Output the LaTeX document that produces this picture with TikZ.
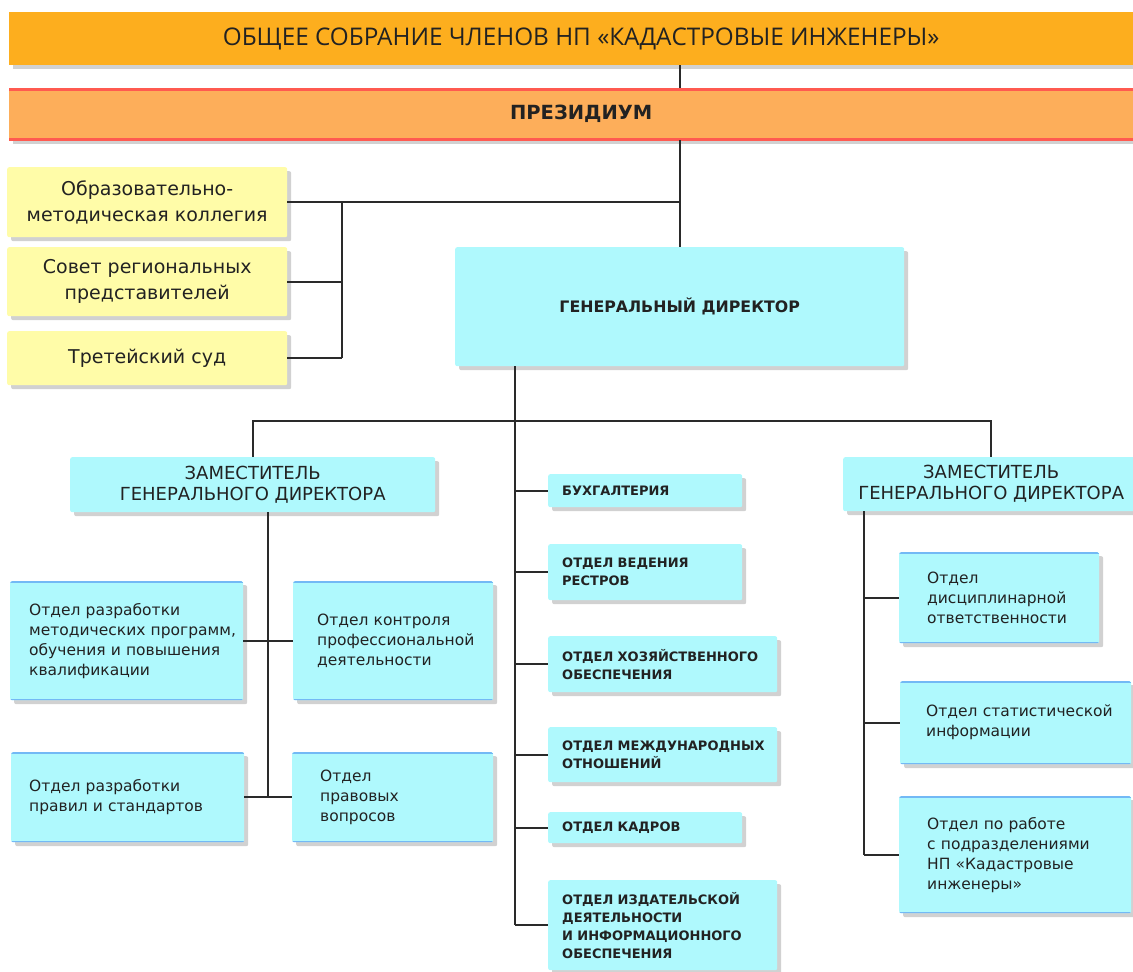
\documentclass[tikz,border=0pt]{standalone}
\usepackage{fontspec}
\setmainfont{DejaVu Sans}
\newfontfamily\titlefont{Open Sans}
\usetikzlibrary{shadows}

\definecolor{topfill}{HTML}{FDAE1E}
\definecolor{presfill}{HTML}{FDAE5A}
\definecolor{presline}{HTML}{FF5A50}
\definecolor{yellowfill}{HTML}{FFFCA8}
\definecolor{cyanfill}{HTML}{AFF9FD}
\definecolor{otdline}{HTML}{73B9F5}
\definecolor{txt}{HTML}{222222}
\definecolor{linecol}{HTML}{2A2A2A}

\begin{document}
\begin{tikzpicture}
    [x=1pt, y=-1pt,
    box/.style={rounded corners=2pt, inner sep=0pt, text=txt, anchor=north west,
        drop shadow={shadow xshift=4pt, shadow yshift=-4pt, opacity=0.18, fill=black}},
    bar/.style={box, rounded corners=0pt, minimum width=1144pt},
    yellowbox/.style={box, fill=yellowfill, minimum width=280pt, align=center,
        font=\fontsize{19}{26}\selectfont},
    cyanbox/.style={box, fill=cyanfill},
    zam/.style={cyanbox, align=center, font=\fontsize{18}{21}\selectfont},
    upbox/.style={cyanbox, align=left, inner xsep=14pt, font=\bfseries\fontsize{13}{18}\selectfont},
    otdel/.style={cyanbox, align=left, font=\fontsize{15.5}{20}\selectfont,
        path picture={
            \draw[otdline, line width=3pt] (path picture bounding box.north west) -- (path picture bounding box.north east);
            \draw[otdline, line width=3pt] (path picture bounding box.south west) -- (path picture bounding box.south east);}},
    link/.style={draw=linecol, line width=1.6pt}]

    \useasboundingbox (0,0) rectangle (1133,972);

    % governing bodies
    \node[bar, fill=topfill, minimum height=53pt, font=\titlefont\fontsize{24.3}{30}\selectfont] (sobranie) at (9,12)
        {ОБЩЕЕ СОБРАНИЕ ЧЛЕНОВ НП «КАДАСТРОВЫЕ ИНЖЕНЕРЫ»};
    \node[bar, fill=presfill, minimum height=52pt, font=\bfseries\fontsize{19.5}{24}\selectfont,
        path picture={
            \draw[presline, line width=5pt] (path picture bounding box.north west) -- (path picture bounding box.north east);
            \draw[presline, line width=5pt] (path picture bounding box.south west) -- (path picture bounding box.south east);}]
        (prezidium) at (9,88) {ПРЕЗИДИУМ};

    % yellow boards
    \node[yellowbox, minimum height=70pt] (omk) at (7,167) {Образовательно-\\методическая коллегия};
    \node[yellowbox, minimum height=69pt] (sovet) at (7,247) {Совет региональных\\представителей};
    \node[yellowbox, minimum height=54pt] (sud) at (7,331) {Третейский суд};

    % director and deputies
    \node[cyanbox, minimum width=449pt, minimum height=119pt, font=\bfseries\fontsize{15.8}{18}\selectfont] (gendir) at (455,247)
        {ГЕНЕРАЛЬНЫЙ ДИРЕКТОР};
    \node[zam, minimum width=365pt, minimum height=55pt] (zamL) at (70,457) {ЗАМЕСТИТЕЛЬ\\ГЕНЕРАЛЬНОГО ДИРЕКТОРА};
    \node[zam, minimum width=296pt, minimum height=54pt] (zamR) at (843,457) {ЗАМЕСТИТЕЛЬ\\ГЕНЕРАЛЬНОГО ДИРЕКТОРА};

    % left departments
    \node[otdel, text width=195pt, inner xsep=19pt, minimum height=119pt] (otdA) at (10,581)
        {Отдел~разработки\\методических~программ,\\обучения~и~повышения\\квалификации};
    \node[otdel, text width=152pt, inner xsep=24pt, minimum height=119pt] (otdB) at (293,581)
        {Отдел~контроля\\профессиональной\\деятельности};
    \node[otdel, text width=197pt, inner xsep=18pt, minimum height=90pt] (otdC) at (11,752)
        {Отдел~разработки\\правил~и~стандартов};
    \node[otdel, text width=145pt, inner xsep=28pt, minimum height=90pt] (otdD) at (292,752)
        {Отдел\\правовых\\вопросов};

    % central departments
    \node[upbox, text width=166pt, minimum height=33pt] (buh) at (548,474) {БУХГАЛТЕРИЯ};
    \node[upbox, text width=166pt, minimum height=56pt] (reestr) at (548,544) {ОТДЕЛ~ВЕДЕНИЯ\\РЕСТРОВ};
    \node[upbox, text width=201pt, minimum height=56pt] (hoz) at (548,636) {ОТДЕЛ~ХОЗЯЙСТВЕННОГО\\ОБЕСПЕЧЕНИЯ};
    \node[upbox, text width=201pt, minimum height=55pt] (mezh) at (548,727) {ОТДЕЛ~МЕЖДУНАРОДНЫХ\\ОТНОШЕНИЙ};
    \node[upbox, text width=166pt, minimum height=31pt] (kadry) at (548,812) {ОТДЕЛ~КАДРОВ};
    \node[upbox, text width=201pt, minimum height=90pt] (izdat) at (548,880)
        {ОТДЕЛ~ИЗДАТЕЛЬСКОЙ\\ДЕЯТЕЛЬНОСТИ\\И~ИНФОРМАЦИОННОГО\\ОБЕСПЕЧЕНИЯ};

    % right departments
    \node[otdel, text width=144pt, inner xsep=28pt, minimum height=91pt] (disc) at (899,552)
        {Отдел\\дисциплинарной\\ответственности};
    \node[otdel, text width=179pt, inner xsep=26pt, minimum height=83pt] (stat) at (900,681)
        {Отдел~статистической\\информации};
    \node[otdel, text width=176pt, inner xsep=28pt, minimum height=117pt] (podr) at (899,796)
        {Отдел~по~работе\\с~подразделениями\\НП~«Кадастровые\\инженеры»};

    % connectors
    \coordinate (ybus) at (342,0);
    \coordinate (trunk) at (515,421);
    \coordinate (lbus) at (268,0);
    \coordinate (rbus) at (864,0);

    \draw[link] (sobranie.south -| gendir.north) -- (prezidium.north -| gendir.north);
    \draw[link] (prezidium.south -| gendir.north) -- (gendir.north);
    \draw[link] (omk.east) -- (omk.east -| gendir.north);
    \draw[link] (sovet.east) -- (sovet.east -| ybus);
    \draw[link] (sud.east) -- (sud.east -| ybus);
    \draw[link] (omk.east -| ybus) -- (sud.east -| ybus);

    \draw[link] (trunk |- gendir.south) -- (trunk |- izdat.west);
    \draw[link] (zamL.north) -- (zamL.north |- trunk) -- (zamR.north |- trunk) -- (zamR.north);
    \foreach \n in {buh,reestr,hoz,mezh,kadry,izdat}
        \draw[link] (trunk |- \n.west) -- (\n.west);

    \draw[link] (lbus |- zamL.south) -- (lbus |- otdC.east);
    \draw[link] (otdA.east) -- (otdB.west);
    \draw[link] (otdC.east) -- (otdD.west);

    \draw[link] (rbus |- zamR.south) -- (rbus |- podr.west);
    \foreach \n in {disc,stat,podr}
        \draw[link] (rbus |- \n.west) -- (\n.west);

\end{tikzpicture}
\end{document}
